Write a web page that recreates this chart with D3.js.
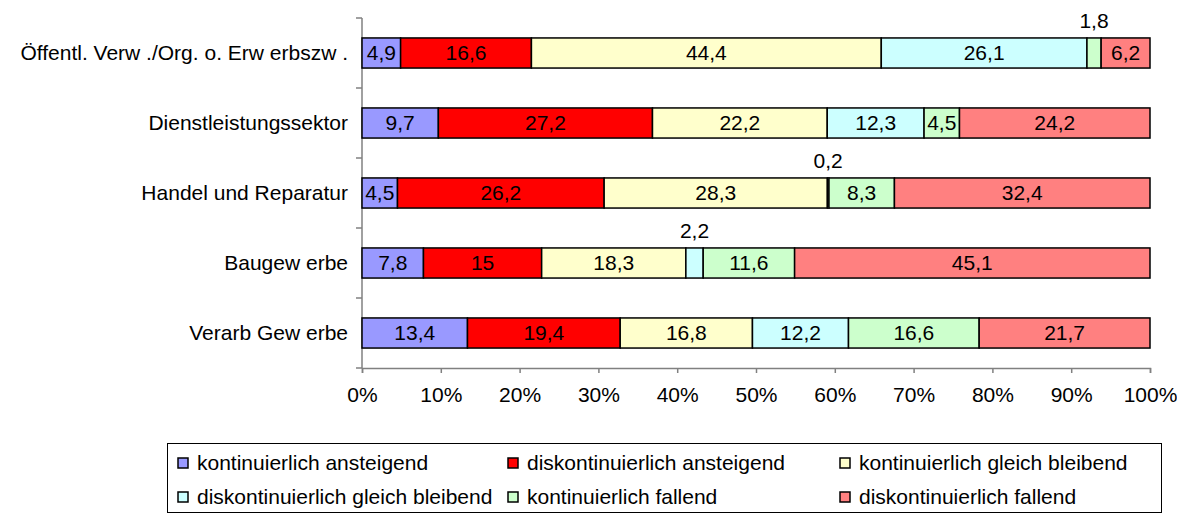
<!DOCTYPE html>
<html>
<head>
<meta charset="utf-8">
<script src="https://cdn.jsdelivr.net/npm/d3@7"></script>
<style>
  body { margin: 0; background: #fff; }
  text { font-family: "Liberation Sans", Arial, sans-serif; fill: #000; }
</style>
</head>
<body>
<svg id="chart" width="1177" height="514"></svg>
<script>
// categories, top to bottom
const categories = ["Öffentl. Verw ./Org. o. Erw erbszw .", "Dienstleistungssektor", "Handel und Reparatur", "Baugew erbe", "Verarb Gew erbe"];
const seriesNames = ["kontinuierlich ansteigend", "diskontinuierlich ansteigend", "kontinuierlich gleich bleibend",
    "diskontinuierlich gleich bleibend", "kontinuierlich fallend", "diskontinuierlich fallend"];
const seriesColors = ["#9999FF", "#FF0000", "#FFFFCC", "#CCFFFF", "#CCFFCC", "#FF8080"];
// one array per series, in category order
const kontAnst = [4.9, 9.7, 4.5, 7.8, 13.4];
const diskAnst = [16.6, 27.2, 26.2, 15, 19.4];
const kontGleich = [44.4, 22.2, 28.3, 18.3, 16.8];
const diskGleich = [26.1, 12.3, 0.2, 2.2, 12.2];
const kontFall = [1.8, 4.5, 8.3, 11.6, 16.6];
const diskFall = [6.2, 24.2, 32.4, 45.1, 21.7];
const tickValues = [0, 0.1, 0.2, 0.3, 0.4, 0.5, 0.6, 0.7, 0.8, 0.9, 1];

const seriesValues = [kontAnst, diskAnst, kontGleich, diskGleich, kontFall, diskFall];

const fontSize = "21px";
const margin = { top: 18, left: 362, right: 27 };
const plotW = 1177 - margin.left - margin.right,
    plotH = 350;

const svg = d3.select("#chart");
const chart = svg.append("g")
    .attr("transform", "translate(" + margin.left + "," + margin.top + ")");

const xScale = d3.scaleLinear().domain([0, 1]).range([0, plotW]);
const yScale = d3.scaleBand().domain(categories).range([0, plotH]).paddingInner(0.57).paddingOuter(0.285);

// build stacked rows, normalised to 100%
const rows = categories.map(function (c, i) {
    const vals = seriesValues.map(s => s[i]);
    const total = d3.sum(vals);
    let acc = 0;
    return vals.map(function (v, j) {
        const seg = { cat: c, series: j, value: v, x0: acc / total, x1: (acc + v) / total };
        acc += v;
        return seg;
    });
});
const segments = rows.flat();

// x axis
const xAxis = chart.append("g")
    .attr("transform", "translate(0," + plotH + ")")
    .call(d3.axisBottom(xScale).tickValues(tickValues).tickFormat(d3.format(".0%")).tickSizeOuter(0).tickSize(5).tickPadding(14));
xAxis.selectAll("text").style("font-size", fontSize);

// y axis with ticks between categories
const yAxis = chart.append("g");
yAxis.append("line")
    .attr("x1", 0).attr("x2", 0).attr("y1", 0).attr("y2", plotH)
    .attr("stroke", "#808080").attr("stroke-width", 1.5);
const step = yScale.step();
d3.range(categories.length + 1).forEach(function (i) {
    yAxis.append("line")
        .attr("x1", -6).attr("x2", 0)
        .attr("y1", i * step).attr("y2", i * step)
        .attr("stroke", "#808080").attr("stroke-width", 1.5);
});
yAxis.selectAll("text.cat")
    .data(categories)
    .join("text")
    .attr("class", "cat")
    .attr("x", -14)
    .attr("y", d => yScale(d) + yScale.bandwidth() / 2)
    .attr("dy", "0.35em")
    .attr("text-anchor", "end")
    .style("font-size", fontSize)
    .text(d => d);
xAxis.select(".domain").attr("stroke", "#808080").attr("stroke-width", 1.5);
xAxis.selectAll(".tick line").attr("stroke", "#808080").attr("stroke-width", 1.5);

// bars
chart.selectAll("rect.seg")
    .data(segments)
    .join("rect")
    .attr("class", "seg")
    .attr("x", d => xScale(d.x0))
    .attr("y", d => yScale(d.cat))
    .attr("width", d => xScale(d.x1) - xScale(d.x0))
    .attr("height", yScale.bandwidth())
    .attr("fill", d => seriesColors[d.series])
    .attr("stroke", "#000")
    .attr("stroke-width", 1.5);

// value labels; small segments get the label above
const fmt = v => String(v).replace(".", ",");
chart.selectAll("text.val")
    .data(segments)
    .join("text")
    .attr("class", "val")
    .attr("x", d => xScale((d.x0 + d.x1) / 2))
    .attr("y", d => d.value < 3 ? yScale(d.cat) - 10 : yScale(d.cat) + yScale.bandwidth() / 2)
    .attr("dy", d => d.value < 3 ? "0" : "0.35em")
    .attr("text-anchor", "middle")
    .style("font-size", fontSize)
    .text(d => fmt(d.value));

// legend
const legend = svg.append("g");
legend.append("rect")
    .attr("x", 167.5).attr("y", 443.5)
    .attr("width", 994).attr("height", 69)
    .attr("fill", "none").attr("stroke", "#000").attr("stroke-width", 1);
const legendX = [178, 508, 840];
const legendY = [463, 497];
seriesNames.forEach(function (name, i) {
    const lx = legendX[i % 3], ly = legendY[Math.floor(i / 3)];
    legend.append("rect")
        .attr("x", lx).attr("y", ly - 5)
        .attr("width", 10).attr("height", 10)
        .attr("fill", seriesColors[i])
        .attr("stroke", "#000").attr("stroke-width", 1.5);
    legend.append("text")
        .attr("x", lx + 19).attr("y", ly)
        .attr("dy", "0.35em")
        .style("font-size", fontSize)
        .text(name);
});
</script>
</body>
</html>
